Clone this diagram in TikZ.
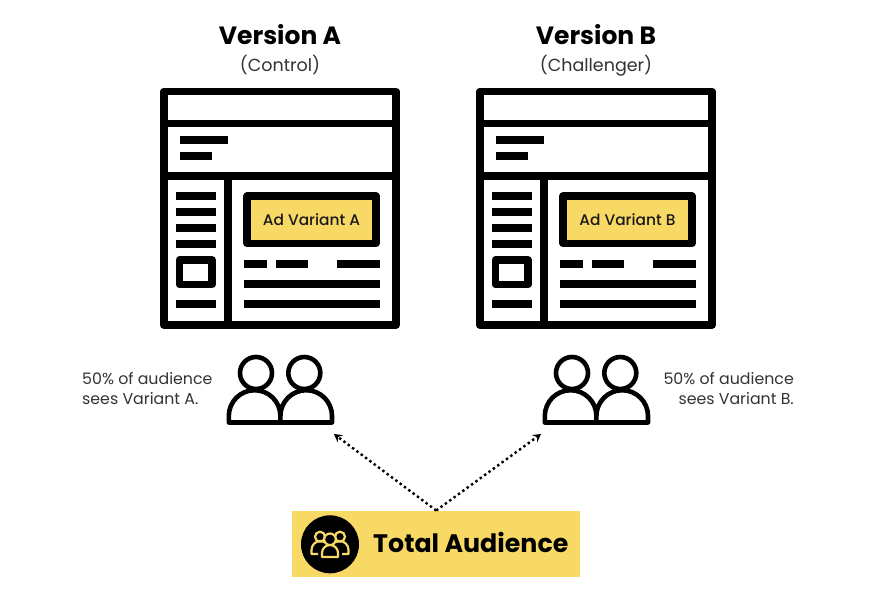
\documentclass[tikz,border=0pt]{standalone}
\usepackage{fontspec}
\setmainfont{Poppins}
\newfontfamily\mediumfont{Poppins Medium}
\usetikzlibrary{positioning}
\usetikzlibrary{arrows.meta}
\definecolor{adyellow}{HTML}{F9D966}
\definecolor{bodygray}{HTML}{333333}
\tikzset{
  frameline/.style={line width=7.6pt, line join=round},
  bar/.style={line width=8pt},
  person/.style={line width=4.6pt, line join=round},
  title/.style={font=\bfseries\fontsize{25}{28}\selectfont, text=black},
  subtitle/.style={font=\fontsize{17.5}{21}\selectfont, text=bodygray},
  note/.style={font=\fontsize{15.8}{20}\selectfont, text=bodygray, inner sep=0pt},
  adbox/.style={draw, line width=7.6pt, line join=round, fill=adyellow, minimum width=128.5pt,
    minimum height=47.5pt, font=\mediumfont\fontsize{15.4}{17}\selectfont, text=black!90, inner sep=0pt},
  totalbox/.style={fill=adyellow, minimum width=288pt, minimum height=66.6pt, inner sep=0pt},
  totaltext/.style={font=\bfseries\fontsize{25.3}{28}\selectfont, text=black, inner sep=0pt},
  crowd/.style={draw=adyellow, line width=2.2pt, line join=round},
  reach/.style={->, line width=2.4pt, dash pattern=on 2.4pt off 3pt}
}
\begin{document}
\begin{tikzpicture}[>={Stealth[length=8pt, width=9pt, inset=3pt]}, x=1pt, y=-1pt]
\useasboundingbox (0,0) rectangle (889,592);
\fill[white] (0,0) rectangle (889,592);

\foreach \o / \v / \t in {0/A/Control, 316/B/Challenger} {
  \begin{scope}[xshift=\o pt]
    \node[title] (title\v) at (280,34.5) {Version \v};
    \node[subtitle, below=3pt of title\v] (sub\v) {(\t)};

    % page frame
    \draw[frameline] (163.7,91.5) rectangle (396,325);
    \draw[frameline] (163.7,123.3) -- +(232.3,0);
    \draw[frameline] (163.7,175.7) -- +(232.3,0);
    \draw[frameline] (228,175.7) -- (228,325);

    \draw[bar] (179.5,139.5) -- +(48,0);
    \draw[bar] (179.5,156) -- +(32,0);

    % sidebar
    \foreach \y in {196,212,228.3,244.3,304.3}
      \draw[bar] (175.7,\y) -- +(40,0);
    \draw[frameline] (179.5,260) rectangle (212,284.5);

    \node[adbox] (ad\v) at (311.5,219.8) {Ad Variant \v};

    \draw[bar] (243.7,264.3) -- +(23.3,0);
    \draw[bar] (276,264.3) -- +(32,0);
    \draw[bar] (336.7,264.3) -- +(43.3,0);
    \foreach \y in {284.3,304.3}
      \draw[bar] (243.7,\y) -- +(136.3,0);

    % two people
    \draw[person] (256,373) circle[radius=16pt];
    \draw[person] (304.3,373) circle[radius=16pt];
    \draw[person] (228.8,422.5) -- (228.8,416) arc[start angle=180, end angle=0, radius=25.8pt]
      -- (280.4,422.5) -- (280.4,416) arc[start angle=180, end angle=0, radius=25.8pt]
      -- (332,422.5) -- cycle;
  \end{scope}
}
\coordinate (peopleA) at (334,434);
\coordinate (peopleB) at (541,434);

\node[note, align=left, anchor=west] (noteA) at (82,389) {50\% of audience\\sees Variant A.};
\node[note, align=right, anchor=east] (noteB) at (794,389) {50\% of audience\\sees Variant B.};

\node[totalbox] (total) at (436.2,544) {};
\node[fill=black, circle, minimum size=58pt, inner sep=0pt] (badge) at (330,544.3) {};
\node[totaltext, anchor=west] (totallabel) at (373,542) {Total Audience};

% crowd inside the badge
\draw[crowd] (320,536.7) circle[radius=5pt];
\draw[crowd] (340,536.7) circle[radius=5pt];
\draw[crowd] (318,554) -- (311.5,554) -- (311.5,550) arc[start angle=180, end angle=60, radius=9pt];
\draw[crowd] (342,554) -- (348.5,554) -- (348.5,550) arc[start angle=0, end angle=120, radius=9pt];
\draw[crowd, fill=black] (330,539.3) circle[radius=5.8pt];
\draw[crowd, fill=black] (322,557) -- (322,553) arc[start angle=180, end angle=0, radius=8pt] -- (338,557) -- cycle;

\draw[reach] (total.north) -- (peopleA);
\draw[reach] (total.north) -- (peopleB);
\end{tikzpicture}
\end{document}
